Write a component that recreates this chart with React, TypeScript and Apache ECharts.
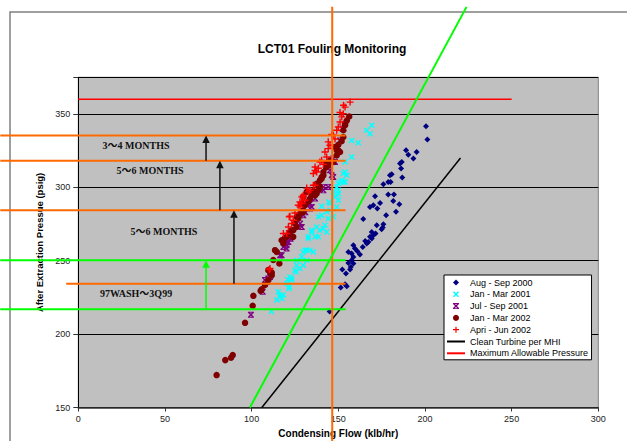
import React, { useEffect, useRef } from "react";
import * as echarts from "echarts";

const titleText = "LCT01 Fouling Monitoring";
const xAxisName = "Condensing Flow (klb/hr)";
const yAxisName = "After Extraction Pressue (psig)";

const seriesNames = [
  "Aug - Sep 2000",
  "Jan - Mar 2001",
  "Jul - Sep 2001",
  "Jan - Mar 2002",
  "Apri - Jun 2002",
  "Clean Turbine per MHI",
  "Maximum Allowable Pressure",
];

const aug2000 = [
  [145.0, 215.5], [151.4, 231.8], [153.9, 234.0], [154.9, 232.7], [152.3, 244.0], [154.4, 241.3],
  [156.8, 244.0], [155.8, 248.5], [158.7, 248.1], [157.2, 245.8], [157.7, 250.4], [158.7, 252.6],
  [155.8, 256.0], [157.7, 254.9], [162.5, 254.2], [161.0, 256.5], [158.7, 260.6], [159.6, 258.4],
  [164.1, 259.4], [166.4, 261.7], [165.5, 263.5], [167.3, 262.8], [169.3, 265.2], [168.3, 266.3],
  [170.2, 267.4], [169.3, 269.6], [171.5, 268.5], [172.2, 274.2], [176.0, 274.9], [175.6, 272.6],
  [175.0, 271.5], [164.4, 278.5], [177.6, 281.0], [183.3, 283.3], [168.3, 286.7], [170.2, 287.8],
  [172.5, 285.6], [174.1, 289.4], [181.7, 290.7], [185.2, 288.5], [171.2, 293.9], [178.8, 295.1],
  [182.1, 295.1], [176.0, 302.1], [178.8, 303.7], [180.2, 303.7], [180.8, 308.9], [179.8, 308.2],
  [186.9, 306.7], [186.2, 312.8], [185.6, 316.2], [186.6, 317.3], [193.3, 319.6], [190.4, 322.3],
  [189.1, 325.3], [195.2, 324.1], [201.4, 332.7], [200.6, 341.6],
];

const jan2001 = [
  [111.4, 215.5], [114.5, 223.2], [116.4, 225.4], [117.4, 224.3], [118.3, 226.6], [115.4, 228.8],
  [116.4, 226.6], [120.2, 234.5], [121.6, 231.1], [121.7, 232.2], [122.1, 239.0], [123.1, 236.8],
  [120.8, 237.3], [123.1, 238.0], [125.6, 242.4], [125.0, 243.6], [127.9, 244.7], [126.0, 247.0],
  [129.8, 247.0], [126.0, 250.4], [128.9, 252.6], [131.8, 250.4], [131.8, 257.2], [133.7, 257.2],
  [129.8, 256.0], [135.6, 256.0], [130.8, 257.2], [132.7, 265.2], [136.6, 266.3], [134.7, 269.6],
  [132.7, 266.3], [138.5, 266.3], [134.7, 270.8], [137.5, 273.0], [139.4, 270.8], [141.4, 272.0],
  [142.3, 274.2], [143.3, 269.6], [138.5, 279.9], [140.4, 281.0], [144.2, 278.8], [147.1, 279.9],
  [143.3, 283.3], [145.2, 284.4], [140.4, 287.1], [144.6, 290.0], [145.2, 289.0], [149.1, 286.7],
  [150.0, 291.2], [148.1, 293.5], [150.0, 295.8], [147.1, 296.9], [149.1, 294.6], [149.1, 300.3],
  [150.0, 298.0], [150.0, 302.6], [152.9, 303.7], [151.0, 303.7], [152.0, 304.8], [153.9, 303.7],
  [152.9, 309.4], [153.9, 310.5], [154.9, 308.2], [153.9, 317.3], [157.7, 320.7], [157.7, 332.0],
  [161.5, 330.4], [166.4, 338.9], [168.3, 336.6], [169.3, 342.3],
];

const jul2001 = [
  [99.6, 213.2], [106.4, 228.8], [108.7, 235.6], [107.7, 236.8], [109.6, 237.9], [110.6, 239.0],
  [111.0, 240.0], [116.4, 253.8], [117.3, 253.8], [118.3, 259.4], [120.2, 258.4], [120.2, 260.6],
  [121.2, 262.8], [119.2, 261.8], [122.5, 265.0], [128.0, 275.4], [128.9, 273.0], [129.8, 281.0],
  [131.0, 283.0], [133.7, 285.6], [134.7, 286.7], [133.7, 289.0], [136.6, 292.4], [139.4, 299.2],
  [141.4, 298.0], [141.4, 300.3], [144.2, 300.3], [145.2, 311.6], [146.2, 308.2], [147.1, 307.1],
  [147.1, 319.6], [148.1, 317.3], [151.0, 332.0], [152.5, 340.0],
];

const jan2002 = [
  [79.8, 172.1], [84.8, 182.3], [88.1, 183.9], [89.1, 185.7], [96.2, 207.7], [100.6, 219.3],
  [101.0, 226.1], [105.2, 229.5], [105.8, 230.6], [107.7, 233.5], [109.6, 236.8], [111.6, 240.2],
  [110.6, 242.4], [109.6, 243.6], [111.6, 242.0], [116.0, 248.1], [112.5, 250.5], [113.5, 257.2],
  [114.5, 256.0], [117.3, 264.0], [118.3, 262.0], [119.2, 265.5], [120.2, 266.3], [121.2, 267.4],
  [122.1, 269.6], [123.1, 270.8], [124.0, 266.3], [124.0, 270.8], [125.0, 275.4], [126.0, 273.0],
  [126.0, 279.9], [126.9, 278.8], [126.9, 281.0], [128.0, 282.2], [128.9, 289.0], [129.8, 284.4],
  [129.8, 283.3], [130.8, 287.8], [129.8, 293.5], [132.7, 290.5], [131.8, 296.9], [133.7, 292.4],
  [134.7, 294.6], [136.6, 294.6], [136.6, 295.8], [135.6, 297.5], [137.5, 295.8], [138.5, 298.0],
  [139.4, 300.3], [138.5, 301.4], [137.5, 302.5], [139.4, 304.8], [140.4, 306.0], [140.4, 307.1],
  [141.4, 308.2], [141.4, 310.5], [142.9, 313.5], [144.2, 315.0], [143.3, 316.5], [145.2, 318.5],
  [147.1, 317.3], [149.1, 321.8], [150.0, 325.3], [149.1, 325.3], [148.1, 327.5], [151.0, 324.1],
  [150.0, 329.0], [151.9, 331.5], [152.9, 334.3], [152.9, 338.9], [153.9, 342.3], [153.9, 343.4],
  [154.9, 345.5], [156.3, 348.3],
];

const apr2002 = [
  [110.2, 244.0], [110.6, 244.7], [118.3, 268.6], [120.2, 268.6], [121.2, 273.0], [121.7, 279.9],
  [122.1, 280.3], [123.1, 275.4], [124.0, 277.6], [125.0, 282.5], [126.9, 287.8], [127.9, 286.7],
  [127.9, 290.0], [128.9, 289.0], [129.8, 293.5], [130.8, 291.2], [129.8, 294.6], [128.9, 293.5],
  [132.7, 296.9], [131.8, 299.5], [133.7, 298.0], [135.6, 301.4], [136.6, 301.4], [135.6, 309.4],
  [136.6, 311.6], [137.5, 310.5], [136.6, 313.9], [138.5, 313.0], [139.4, 317.3], [140.4, 318.4],
  [141.4, 315.7], [142.3, 324.1], [143.3, 320.7], [145.2, 328.7], [144.2, 326.4], [144.2, 331.0],
  [147.1, 335.5], [146.2, 336.1], [148.1, 333.0], [149.1, 338.9], [150.0, 341.1], [151.0, 344.5],
  [152.0, 348.0], [151.0, 351.0], [152.9, 350.2], [153.9, 354.7], [153.0, 356.0], [156.8, 358.1],
];

const cleanTurbine = [[105.9, 150], [220.5, 320]];
const maxPressure = [[0, 360], [250, 360]];

// annotation values (data units)
const orangeLevels = [335.3, 318.2, 284.4, 234.3];
const orangeStarts = [-45, -45, -45, -7];
const greenLevels = [250.4, 217.0];
const levelLineEnd = 154.2;
const orangeVerticalX = 146.5;
const orangeVerticalRange = [423, 100];
const greenDiagonal = [[99, 150], [224, 423]];
const blackArrows = [
  { x: 73.7, from: 318.2, to: 335.3 },
  { x: 81.7, from: 284.4, to: 318.2 },
  { x: 89.8, from: 234.3, to: 284.4 },
];
const greenArrows = [{ x: 73.7, from: 217.0, to: 250.4 }];
const notes = [
  { text: "3～4 MONTHS", x: 33.3, y: 328.5 },
  { text: "5～6 MONTHS", x: 41.4, y: 311.6 },
  { text: "5～6 MONTHS", x: 49.4, y: 269.6 },
  { text: "97WASH～3Q99", x: 33.3, y: 227.7 },
];

const SANS = "'Liberation Sans', Arial, sans-serif";
const SERIF = "'Liberation Serif', 'Times New Roman', 'Noto Sans CJK JP', serif";

const diamondPath = "path://M3,0 L6,3 L3,6 L0,3 Z";
const xPath = "path://M0,1 L1,0 L3,2 L5,0 L6,1 L4,3 L6,5 L5,6 L3,4 L1,6 L0,5 L2,3 Z";
const starPath =
  "path://M0,0 L6,0 L6,0.9 L0,0.9 Z M0,5.1 L6,5.1 L6,6 L0,6 Z M0,1 L1,0 L3,2 L5,0 L6,1 L4,3 L6,5 L5,6 L3,4 L1,6 L0,5 L2,3 Z";
const plusPath =
  "path://M2.4,0 L3.6,0 L3.6,2.4 L6,2.4 L6,3.6 L3.6,3.6 L3.6,6 L2.4,6 L2.4,3.6 L0,3.6 L0,2.4 L2.4,2.4 Z";

export default function App() {
  const ref = useRef<HTMLDivElement>(null);
  useEffect(() => {
    if (!ref.current) return;
    const chart = echarts.init(ref.current, undefined, { renderer: "svg" });
    const scatter = (name: string, data: number[][], symbol: string, size: number, color: string) => ({
      type: "scatter",
      name,
      data,
      symbol,
      symbolSize: size,
      symbolKeepAspect: true,
      itemStyle: { color, opacity: 1 },
      emphasis: { disabled: true },
    });
    chart.setOption({
      animation: false,
      backgroundColor: "#ffffff",
      title: {
        text: titleText,
        left: 327,
        top: 38,
        textAlign: "center",
        textStyle: { fontSize: 12, fontWeight: "bold", color: "#000", fontFamily: SANS },
      },
      grid: {
        left: 78.3,
        right: 28.7,
        top: 77.3,
        bottom: 33.5,
        show: true,
        backgroundColor: "#C0C0C0",
        borderColor: "#808080",
        borderWidth: 1,
        containLabel: false,
        outerBoundsMode: "none",
      },
      legend: {
        orient: "vertical",
        left: 444,
        top: 275,
        padding: [3, 3, 2, 2],
        itemGap: 2.8,
        itemWidth: 18,
        itemHeight: 6,
        backgroundColor: "#ffffff",
        borderColor: "#000",
        borderWidth: 1,
        borderRadius: 0,
        selectedMode: false,
        textStyle: { fontSize: 9, color: "#000", fontFamily: SANS },
        data: seriesNames.map((n, i) => (i >= 5 ? { name: n, itemStyle: { opacity: 0 } } : { name: n })),
      },
      xAxis: {
        type: "value",
        min: 0,
        max: 300,
        interval: 50,
        name: xAxisName,
        nameLocation: "middle",
        nameGap: 21,
        nameTextStyle: { fontSize: 10, fontWeight: "bold", color: "#000", fontFamily: SANS },
        axisLine: { show: true, onZero: false, lineStyle: { color: "#333", width: 1.5 } },
        axisTick: { show: true, length: 4, lineStyle: { color: "#333" } },
        axisLabel: { fontSize: 9, color: "#222", margin: 7, fontFamily: SANS },
        splitLine: { show: false },
      },
      yAxis: {
        type: "value",
        min: 150,
        max: 375,
        interval: 50,
        name: yAxisName,
        nameLocation: "middle",
        nameGap: 30,
        nameTextStyle: { fontSize: 9.5, fontWeight: "bold", color: "#000", fontFamily: SANS },
        axisLine: { show: true, onZero: false, lineStyle: { color: "#000", width: 1 } },
        axisTick: { show: true, length: 5, lineStyle: { color: "#333" } },
        axisLabel: {
          fontSize: 9,
          color: "#222",
          margin: 8,
          fontFamily: SANS,
          formatter: (v: number) => (v % 50 === 0 ? String(v) : ""),
        },
        splitLine: { show: true, lineStyle: { color: "#000", width: 1 } },
      },
      series: [
        scatter(seriesNames[0], aug2000, diamondPath, 6, "#000080"),
        scatter(seriesNames[1], jan2001, xPath, 6, "#00FFFF"),
        scatter(seriesNames[2], jul2001, starPath, 6, "#800080"),
        scatter(seriesNames[3], jan2002, "circle", 6.5, "#800000"),
        scatter(seriesNames[4], apr2002, plusPath, 7, "#FF0000"),
        {
          type: "line",
          name: seriesNames[5],
          data: cleanTurbine,
          symbol: "none",
          lineStyle: { color: "#000", width: 1.5 },
          itemStyle: { color: "#000" },
          emphasis: { disabled: true },
        },
        {
          type: "line",
          name: seriesNames[6],
          data: maxPressure,
          symbol: "none",
          lineStyle: { color: "#FF0000", width: 1.5 },
          itemStyle: { color: "#FF0000" },
          emphasis: { disabled: true },
        },
      ],
    });

    const P = (x: number, y: number) => chart.convertToPixel({ gridIndex: 0 }, [x, y]) as number[];
    const els: any[] = [];
    els.push({
      type: "rect",
      silent: true,
      z: -1,
      shape: { x: 10, y: 12, width: 700, height: 500 },
      style: { fill: "none", stroke: "#808080", lineWidth: 1.5 },
    });
    const seg = (a: number[], b: number[], stroke: string, lineWidth: number) => ({
      type: "line",
      silent: true,
      z: 100,
      shape: { x1: a[0], y1: a[1], x2: b[0], y2: b[1] },
      style: { stroke, lineWidth },
    });
    orangeLevels.forEach((lv, i) => {
      els.push(seg(P(orangeStarts[i], lv), P(levelLineEnd, lv), "#FF6A00", 2));
    });
    greenLevels.forEach((lv) => {
      els.push(seg(P(-45, lv), P(levelLineEnd, lv), "#00FF00", 2));
    });
    els.push(seg(P(orangeVerticalX, orangeVerticalRange[0]), P(orangeVerticalX, orangeVerticalRange[1]), "#FF6A00", 2));
    els.push(seg(P(greenDiagonal[0][0], greenDiagonal[0][1]), P(greenDiagonal[1][0], greenDiagonal[1][1]), "#00FF00", 2));
    const arrow = (a: { x: number; from: number; to: number }, color: string) => {
      const s = P(a.x, a.from);
      const t = P(a.x, a.to);
      els.push(seg(s, [t[0], t[1] + 7], color, 1.5));
      els.push({
        type: "polygon",
        silent: true,
        z: 101,
        shape: { points: [[t[0], t[1]], [t[0] - 3.8, t[1] + 7.5], [t[0] + 3.8, t[1] + 7.5]] },
        style: { fill: color },
      });
    };
    blackArrows.forEach((a) => arrow(a, "#111"));
    greenArrows.forEach((a) => arrow(a, "#00FF00"));
    notes.forEach((n) => {
      const p = P(n.x, n.y);
      els.push({
        type: "text",
        silent: true,
        z: 101,
        x: p[0],
        y: p[1],
        style: {
          text: n.text,
          fill: "#111",
          font: `bold 10px ${SERIF}`,
          align: "center",
          verticalAlign: "middle",
          textAlign: "center",
          textVerticalAlign: "middle",
        },
      });
    });
    chart.setOption({ graphic: els });
    return () => chart.dispose();
  }, []);
  return (
    <div
      ref={ref}
      style={{ position: "fixed", left: 0, top: 0, width: 627, height: 441, background: "#fff" }}
    />
  );
}
